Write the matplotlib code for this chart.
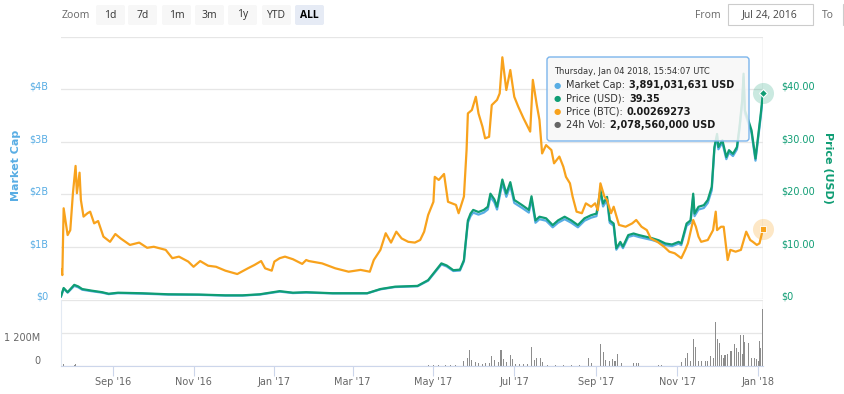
import numpy as np
import pandas as pd
import matplotlib
matplotlib.use('Agg')
import matplotlib.pyplot as plt
import matplotlib.dates as mdates
from matplotlib.patches import FancyBboxPatch, Rectangle
from matplotlib.transforms import Affine2D, ScaledTranslation

# ── Data ──
price_dates = [
    '2016-07-24', '2016-07-26', '2016-07-29', '2016-08-03', '2016-08-06', '2016-08-09',
    '2016-08-16', '2016-08-24', '2016-08-29', '2016-09-05', '2016-09-23', '2016-10-13',
    '2016-11-05', '2016-11-25', '2016-12-08', '2016-12-21', '2016-12-31', '2017-01-05',
    '2017-01-15', '2017-01-25', '2017-02-14', '2017-03-12', '2017-03-22', '2017-04-02',
    '2017-04-19', '2017-04-27', '2017-05-02', '2017-05-07', '2017-05-11', '2017-05-16',
    '2017-05-21', '2017-05-24', '2017-05-25', '2017-05-27', '2017-05-29', '2017-05-31',
    '2017-06-04', '2017-06-08', '2017-06-11', '2017-06-13', '2017-06-16', '2017-06-18',
    '2017-06-22', '2017-06-25', '2017-06-28', '2017-07-01', '2017-07-07', '2017-07-12',
    '2017-07-14', '2017-07-17', '2017-07-20', '2017-07-25', '2017-07-30', '2017-08-03',
    '2017-08-08', '2017-08-13', '2017-08-18', '2017-08-23', '2017-08-28', '2017-09-01',
    '2017-09-04', '2017-09-06', '2017-09-09', '2017-09-11', '2017-09-14', '2017-09-16',
    '2017-09-19', '2017-09-21', '2017-09-25', '2017-09-29', '2017-10-03', '2017-10-08',
    '2017-10-13', '2017-10-18', '2017-10-23', '2017-10-28', '2017-11-02', '2017-11-04',
    '2017-11-08', '2017-11-11', '2017-11-13', '2017-11-14', '2017-11-17', '2017-11-21',
    '2017-11-24', '2017-11-27', '2017-11-29', '2017-12-01', '2017-12-02', '2017-12-05',
    '2017-12-08', '2017-12-10', '2017-12-13', '2017-12-16', '2017-12-18', '2017-12-20',
    '2017-12-21', '2017-12-22', '2017-12-25', '2017-12-27', '2017-12-30', '2018-01-03',
    '2018-01-04 15:54',
]
price_usd = [
    0.5, 2.1, 1.3, 2.7, 2.4, 1.9,
    1.6, 1.3, 1.0, 1.2, 1.1, 0.9,
    0.85, 0.7, 0.7, 0.9, 1.3, 1.5,
    1.2, 1.3, 1.1, 1.1, 1.9, 2.35,
    2.5, 3.6, 5.2, 6.8, 6.4, 5.5,
    5.6, 7.4, 10.0, 15.0, 16.3, 17.0,
    16.6, 17.0, 17.6, 20.1, 19.0, 17.6,
    22.8, 20.1, 22.3, 18.9, 17.9, 17.0,
    19.6, 15.0, 15.7, 15.4, 14.1, 15.0,
    15.7, 15.0, 14.1, 15.4, 16.0, 16.3,
    20.8, 18.2, 19.5, 15.0, 14.4, 9.7,
    10.9, 10.0, 12.2, 12.5, 12.2, 11.9,
    11.6, 11.2, 10.6, 10.4, 10.9, 10.6,
    14.4, 15.0, 20.1, 16.3, 17.6, 17.9,
    18.9, 21.4, 29.0, 31.5, 29.0, 30.3,
    27.1, 28.4, 27.7, 29.0, 33.0, 38.0,
    43.0, 36.0, 33.8, 32.2, 26.8, 35.4,
    39.35,
]
market_cap_b = [
    0.047, 0.196, 0.121, 0.250, 0.223, 0.177,
    0.149, 0.121, 0.093, 0.112, 0.102, 0.084,
    0.079, 0.065, 0.065, 0.084, 0.122, 0.141,
    0.113, 0.122, 0.107, 0.107, 0.184, 0.228,
    0.243, 0.349, 0.504, 0.660, 0.621, 0.534,
    0.543, 0.718, 0.970, 1.455, 1.581, 1.649,
    1.610, 1.649, 1.707, 1.950, 1.843, 1.707,
    2.212, 1.950, 2.163, 1.833, 1.736, 1.649,
    1.901, 1.455, 1.523, 1.494, 1.368, 1.455,
    1.523, 1.455, 1.368, 1.494, 1.552, 1.581,
    2.018, 1.765, 1.892, 1.455, 1.397, 0.941,
    1.057, 0.970, 1.183, 1.213, 1.183, 1.154,
    1.125, 1.086, 1.028, 1.009, 1.057, 1.028,
    1.397, 1.455, 1.950, 1.581, 1.707, 1.736,
    1.833, 2.076, 2.857, 3.103, 2.857, 2.985,
    2.669, 2.797, 2.728, 2.857, 3.250, 3.743,
    4.236, 3.546, 3.329, 3.172, 2.640, 3.487,
    3.891,
]

btc_dates = [
    '2016-07-24', '2016-07-25', '2016-07-26', '2016-07-29', '2016-07-31', '2016-08-02',
    '2016-08-04', '2016-08-05', '2016-08-07', '2016-08-08', '2016-08-10', '2016-08-13',
    '2016-08-15', '2016-08-18', '2016-08-21', '2016-08-25', '2016-08-30', '2016-09-03',
    '2016-09-07', '2016-09-14', '2016-09-21', '2016-09-27', '2016-10-02', '2016-10-11',
    '2016-10-16', '2016-10-21', '2016-10-28', '2016-11-01', '2016-11-06', '2016-11-12',
    '2016-11-18', '2016-11-25', '2016-12-04', '2016-12-12', '2016-12-17', '2016-12-22',
    '2016-12-25', '2016-12-30', '2017-01-01', '2017-01-05', '2017-01-09', '2017-01-15',
    '2017-01-22', '2017-01-25', '2017-01-27', '2017-02-06', '2017-02-16', '2017-02-26',
    '2017-03-07', '2017-03-14', '2017-03-17', '2017-03-22', '2017-03-26', '2017-03-30',
    '2017-04-03', '2017-04-07', '2017-04-12', '2017-04-17', '2017-04-21', '2017-04-24',
    '2017-04-27', '2017-05-01', '2017-05-02', '2017-05-05', '2017-05-09', '2017-05-12',
    '2017-05-15', '2017-05-18', '2017-05-20', '2017-05-24', '2017-05-26', '2017-05-27',
    '2017-05-30', '2017-06-02', '2017-06-04', '2017-06-07', '2017-06-09', '2017-06-12',
    '2017-06-14', '2017-06-18', '2017-06-20', '2017-06-22', '2017-06-25', '2017-06-28',
    '2017-07-01', '2017-07-04', '2017-07-08', '2017-07-13', '2017-07-15', '2017-07-18',
    '2017-07-20', '2017-07-22', '2017-07-25', '2017-07-29', '2017-07-31', '2017-08-04',
    '2017-08-07', '2017-08-09', '2017-08-12', '2017-08-14', '2017-08-17', '2017-08-21',
    '2017-08-24', '2017-08-28', '2017-08-31', '2017-09-02', '2017-09-04', '2017-09-07',
    '2017-09-09', '2017-09-12', '2017-09-14', '2017-09-18', '2017-09-23', '2017-09-28',
    '2017-10-01', '2017-10-05', '2017-10-09', '2017-10-12', '2017-10-17', '2017-10-22',
    '2017-10-26', '2017-10-30', '2017-11-04', '2017-11-07', '2017-11-09', '2017-11-13',
    '2017-11-15', '2017-11-17', '2017-11-19', '2017-11-24', '2017-11-28', '2017-11-30',
    '2017-12-01', '2017-12-04', '2017-12-06', '2017-12-09', '2017-12-11', '2017-12-15',
    '2017-12-19', '2017-12-23', '2017-12-26', '2017-12-28', '2017-12-31', '2018-01-02',
    '2018-01-04 15:54',
]
price_btc = [
    0.00114, 0.00092, 0.00349, 0.00246, 0.00265, 0.00407,
    0.00512, 0.00407, 0.00486, 0.00381, 0.00317, 0.00330,
    0.00336, 0.00291, 0.00300, 0.00240, 0.00220, 0.00250,
    0.00233, 0.00208, 0.00217, 0.00197, 0.00201, 0.00189,
    0.00157, 0.00163, 0.00144, 0.00124, 0.00146, 0.00128,
    0.00124, 0.00109, 0.00096, 0.00118, 0.00131, 0.00146,
    0.00118, 0.00109, 0.00144, 0.00157, 0.00163, 0.00153,
    0.00135, 0.00150, 0.00146, 0.00137, 0.00118, 0.00105,
    0.00112, 0.00105, 0.00150, 0.00189, 0.00253, 0.00217,
    0.00259, 0.00233, 0.00220, 0.00217, 0.00227, 0.00259,
    0.00323, 0.00374, 0.00470, 0.00458, 0.00481, 0.00374,
    0.00368, 0.00362, 0.00330, 0.00394, 0.00573, 0.00714,
    0.00727, 0.00778, 0.00714, 0.00663, 0.00618, 0.00624,
    0.00746, 0.00766, 0.00791, 0.00930, 0.00804, 0.00881,
    0.00778, 0.00740, 0.00695, 0.00644, 0.00843, 0.00746,
    0.00689, 0.00560, 0.00592, 0.00573, 0.00522, 0.00548,
    0.00509, 0.00470, 0.00445, 0.00394, 0.00336, 0.00330,
    0.00368, 0.00355, 0.00368, 0.00342, 0.00445, 0.00394,
    0.00381, 0.00330, 0.00355, 0.00285, 0.00278, 0.00291,
    0.00304, 0.00278, 0.00265, 0.00233, 0.00220, 0.00201,
    0.00182, 0.00176, 0.00157, 0.00189, 0.00214, 0.00304,
    0.00278, 0.00240, 0.00220, 0.00227, 0.00265, 0.00336,
    0.00265, 0.00278, 0.00278, 0.00150, 0.00189, 0.00182,
    0.00189, 0.00259, 0.00227, 0.00220, 0.00208, 0.00214,
    0.00269273,
]

vol_dates = [
    '2016-07-26', '2016-08-03', '2016-08-04', '2017-04-27', '2017-05-01', '2017-05-05',
    '2017-05-10', '2017-05-14', '2017-05-18', '2017-05-24', '2017-05-27', '2017-05-28',
    '2017-05-30', '2017-06-02', '2017-06-04', '2017-06-07', '2017-06-09', '2017-06-12',
    '2017-06-14', '2017-06-16', '2017-06-19', '2017-06-21', '2017-06-23', '2017-06-25',
    '2017-06-28', '2017-06-30', '2017-07-02', '2017-07-05', '2017-07-08', '2017-07-11',
    '2017-07-14', '2017-07-16', '2017-07-18', '2017-07-21', '2017-07-22', '2017-07-26',
    '2017-08-01', '2017-08-07', '2017-08-13', '2017-08-19', '2017-08-26', '2017-08-28',
    '2017-09-04', '2017-09-06', '2017-09-08', '2017-09-11', '2017-09-13', '2017-09-15',
    '2017-09-17', '2017-09-20', '2017-09-29', '2017-10-01', '2017-10-03', '2017-10-18',
    '2017-10-20', '2017-11-04', '2017-11-07', '2017-11-09', '2017-11-11', '2017-11-13',
    '2017-11-15', '2017-11-17', '2017-11-19', '2017-11-22', '2017-11-24', '2017-11-26',
    '2017-11-28', '2017-11-30', '2017-12-01', '2017-12-03', '2017-12-04', '2017-12-06',
    '2017-12-07', '2017-12-09', '2017-12-11', '2017-12-12', '2017-12-14', '2017-12-16',
    '2017-12-17', '2017-12-19', '2017-12-20', '2017-12-21', '2017-12-22', '2017-12-25',
    '2017-12-27', '2017-12-29', '2017-12-31', '2018-01-01', '2018-01-02', '2018-01-03',
    '2018-01-04 15:54',
]
vol_musd = [
    60, 50, 90, 40, 30, 30,
    30, 25, 30, 180, 280, 600,
    220, 160, 100, 90, 100, 110,
    360, 220, 150, 600, 240, 150,
    400, 240, 80, 70, 70, 70,
    700, 220, 280, 280, 160, 50,
    50, 50, 50, 50, 300, 120,
    800, 520, 220, 200, 240, 200,
    420, 100, 120, 120, 120, 30,
    30, 145, 300, 460, 190, 1000,
    680, 180, 200, 170, 200, 360,
    280, 1610, 1000, 820, 400, 280,
    400, 420, 545, 545, 800, 640,
    500, 1130, 420, 1130, 885, 820,
    280, 280, 250, 200, 910, 640,
    2078.56,
]

price_dates = pd.to_datetime(price_dates, format='ISO8601')
btc_dates = pd.to_datetime(btc_dates, format='ISO8601')
vol_dates = pd.to_datetime(vol_dates, format='ISO8601')

BLUE = '#58ade4'
GREEN = '#0f9d74'
ORANGE = '#f8a21c'
GRID = '#e6e6e6'
LABEL_GRAY = '#666666'

# ── Figure & panes (positions in pixels of an 845x394 image) ──
W, H = 845, 394
fig = plt.figure(figsize=(W / 100, H / 100), dpi=100)
px = Affine2D().scale(1, -1).translate(0, H)   # top-left pixel coords


def frac(x0, y0, x1, y1):
    return [x0 / W, 1 - y1 / H, (x1 - x0) / W, (y1 - y0) / H]


ax = fig.add_axes(frac(61, 37, 763, 299))
axv = fig.add_axes(frac(61, 300, 763, 366), sharex=ax)
ax_usd = ax.twinx()
ax_btc = ax.twinx()

x_start = pd.Timestamp('2016-07-24')
x_end = pd.Timestamp('2018-01-04 15:54')
ax.set_xlim(x_start, x_end)

# market cap (left)
ax.plot(price_dates, market_cap_b, color=BLUE, lw=1.6, zorder=2)
ax.set_ylim(0, 5)
ax.set_yticks([0, 1, 2, 3, 4, 5])
ax.set_yticklabels(['$0', '$1B', '$2B', '$3B', '$4B', ''])
ax.tick_params(axis='y', length=0, pad=9, labelsize=7, labelcolor=BLUE)
ax.grid(axis='y', color=GRID, lw=0.9)
ax.tick_params(axis='x', length=0, labelbottom=False)
ax.set_ylabel('Market Cap', color=BLUE, fontsize=8, fontweight='bold')
ax.yaxis.set_label_coords(-0.057, 0.51)

# price usd (right)
ax_usd.plot(price_dates, price_usd, color=GREEN, lw=1.6)
ax_usd.set_ylim(0, 50)
ax_usd.set_yticks([0, 10, 20, 30, 40, 50])
ax_usd.set_yticklabels(['$0', '$10.00', '$20.00', '$30.00', '$40.00', ''])
ax_usd.tick_params(axis='y', length=0, pad=13, labelsize=7, labelcolor=GREEN)
ax_usd.set_ylabel('Price (USD)', color=GREEN, fontsize=8, fontweight='bold',
                  rotation=270, va='center')
ax_usd.yaxis.set_label_coords(1.093, 0.50)

# price btc (hidden axis)
ax_btc.plot(btc_dates, price_btc, color=ORANGE, lw=1.6)
ax_btc.set_ylim(0, 0.01008)
ax_btc.set_yticks([])

for a in (ax, ax_usd, ax_btc):
    for s in a.spines.values():
        s.set_visible(False)

up = ScaledTranslation(0, 0.035, fig.dpi_scale_trans)
for lab in ax.get_yticklabels() + ax_usd.get_yticklabels():
    lab.set_transform(lab.get_transform() + up)

# crosshair + hover markers at the last point
ax.axvline(x_end, color='#cccccc', lw=1, zorder=1)
ax_usd.scatter([x_end], [price_usd[-1]], s=230, color=GREEN, alpha=0.22,
               lw=0, clip_on=False, zorder=5)
ax_usd.plot([x_end], [price_usd[-1]], marker='D', ms=4.5, color=GREEN,
            mec='white', mew=0.8, clip_on=False, zorder=6)
ax_btc.scatter([x_end], [price_btc[-1]], s=230, color=ORANGE, alpha=0.25,
               lw=0, clip_on=False, zorder=5)
ax_btc.plot([x_end], [price_btc[-1]], marker='s', ms=4.5, color=ORANGE,
            mec='white', mew=0.6, clip_on=False, zorder=6)

# ── Volume pane ──
axv.bar(vol_dates, vol_musd, width=0.8, color='#8d8d8d', lw=0, zorder=2)
axv.set_ylim(0, 2400)
axv.set_yticks([0, 1200, 2400])
axv.set_yticklabels(['0', '1 200M', ''])
axv.tick_params(axis='y', length=0, pad=15, labelsize=7, labelcolor=LABEL_GRAY)
axv.grid(axis='y', color=GRID, lw=0.9)
for s in ('top', 'right'):
    axv.spines[s].set_visible(False)
axv.spines['bottom'].set_color('#ccd6eb')
axv.spines['left'].set_color('#e3eaf3')
axv.spines['left'].set_linewidth(0.8)
axv.axvline(x_end, color='#cccccc', lw=1, zorder=1)
vl = axv.get_yticklabels()
vl[0].set_transform(vl[0].get_transform() + ScaledTranslation(0, 0.06, fig.dpi_scale_trans))
vl[1].set_transform(vl[1].get_transform() + ScaledTranslation(0, -0.04, fig.dpi_scale_trans))

axv.xaxis.set_major_locator(mdates.MonthLocator(bymonth=[1, 3, 5, 7, 9, 11]))
axv.xaxis.set_major_formatter(mdates.DateFormatter("%b '%y"))
axv.tick_params(axis='x', length=7, width=0.8, color='#ccd6eb', pad=1,
                labelsize=7, labelcolor=LABEL_GRAY)
axv.set_xlim(x_start, x_end)

# ── Range selector row ──
fig.text(62, 15, 'Zoom', transform=px, fontsize=7.5, color=LABEL_GRAY,
         va='center', family='Open Sans')
buttons = ['1d', '7d', '1m', '3m', '1y', 'YTD', 'ALL']
btn_left = [96, 128, 162, 195, 228, 262, 295]
for lab, x0 in zip(buttons, btn_left):
    sel = lab == 'ALL'
    fig.add_artist(FancyBboxPatch((x0, 5), 29, 20, transform=px,
                                  boxstyle='round,pad=0,rounding_size=2',
                                  fc='#e6ebf5' if sel else '#f7f7f7', ec='none'))
    fig.text(x0 + 14.5, 15, lab, transform=px, ha='center', va='center',
             fontsize=7.5, color='#000000' if sel else '#333333',
             fontweight='bold' if sel else 'normal', family='Open Sans')

fig.text(695, 15, 'From', transform=px, fontsize=7.5, color=LABEL_GRAY,
         va='center', family='Open Sans')
fig.add_artist(Rectangle((728, 4), 85, 21, transform=px, fc='white',
                         ec='#cccccc', lw=0.8))
fig.text(770, 15, 'Jul 24, 2016', transform=px, fontsize=7.5, color='#444444',
         ha='center', va='center', family='Open Sans')
fig.text(822, 15, 'To', transform=px, fontsize=7.5, color=LABEL_GRAY,
         va='center', family='Open Sans')
fig.add_artist(Rectangle((843, 4), 10, 21, transform=px, fc='white',
                         ec='#cccccc', lw=0.8))

# ── Tooltip ──
fig.add_artist(FancyBboxPatch((547, 57), 202, 84, transform=px,
                              boxstyle='round,pad=0,rounding_size=3',
                              fc=(0.97, 0.97, 0.97, 0.85), ec='#7cb5ec', lw=1))
fig.text(554, 71, 'Thursday, Jan 04 2018, 15:54:07 UTC', transform=px,
         fontsize=6, color='#333333', va='center')

rows = [
    (BLUE, 'Market Cap:', '3,891,031,631 USD'),
    (GREEN, 'Price (USD):', '39.35'),
    (ORANGE, 'Price (BTC):', '0.00269273'),
    ('#666666', '24h Vol:', '2,078,560,000 USD'),
]
row_y = [85.5, 98.5, 111.8, 125]
renderer = fig.canvas.get_renderer()
for (col, name, val), yy in zip(rows, row_y):
    fig.text(557.5, yy, '\u25cf', transform=px, fontsize=6, color=col,
             ha='center', va='center')
    t = fig.text(566, yy, name, transform=px, fontsize=7, color='#333333',
                 va='center')
    x1 = t.get_window_extent(renderer).x1
    fig.text(x1 + 4, yy, val, transform=px, fontsize=7, color='#1a1a1a',
             fontweight='bold', va='center')

fig.savefig('out.png', dpi=100)
